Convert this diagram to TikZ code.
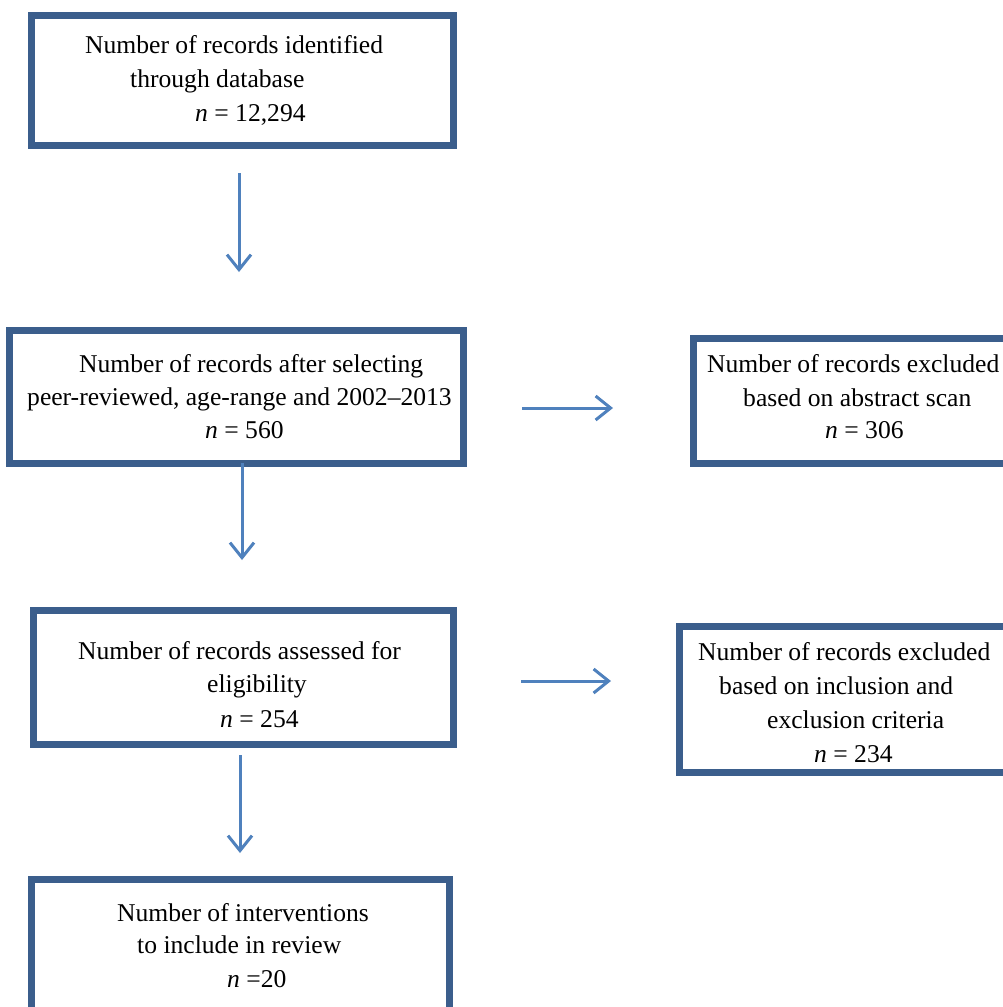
\documentclass[tikz,border=0pt]{standalone}
\usepackage{fontspec}
\setmainfont{Liberation Serif}
\usetikzlibrary{arrows.meta}
\definecolor{boxblue}{RGB}{59,94,140}
\definecolor{arrblue}{RGB}{79,129,189}
\begin{document}
\begin{tikzpicture}[x=1pt,y=-1pt,
 box/.style={draw=boxblue,line width=7pt,rectangle,inner sep=0pt,outer sep=3.5pt,anchor=north west},
 txt/.style={anchor=base west,inner sep=0pt,font=\fontsize{25.6}{34}\selectfont},
 arr/.style={draw=arrblue,line width=3pt,-{Straight Barb[length=15pt,width=24pt,line width=3pt]}}]
\useasboundingbox (0,0) rectangle (1003,1007);
\clip (0,0) rectangle (1003,1007);
\fill[white] (0,0) rectangle (1003,1007);
% boxes
\node[box,minimum width=422pt,minimum height=130pt] (b1) at (28,12) {};
\node[box,minimum width=454pt,minimum height=133pt] (b2) at (6,327) {};
\node[box,minimum width=400pt,minimum height=125pt] (r1) at (690,335) {};
\node[box,minimum width=400pt,minimum height=146pt] (r2) at (676,623) {};
\node[box,minimum width=420pt,minimum height=134pt] (b3) at (30,607) {};
\node[box,minimum width=418pt,minimum height=200pt] (b4) at (28,876) {};
% texts
\node[txt] (t11) at (85,53) {Number of records identified};
\node[txt] (t12) at (130,87) {through database};
\node[txt] (t13) at (195,121) {\textit{n} = 12,294};
\node[txt] (t21) at (79,372) {Number of records after selecting};
\node[txt] (t22) at (27,405) {peer-reviewed, age-range and 2002--2013};
\node[txt] (t23) at (205,438) {\textit{n} = 560};
\node[txt] (r11) at (707,372) {Number of records excluded};
\node[txt] (r12) at (743,406) {based on abstract scan};
\node[txt] (r13) at (825,438) {\textit{n} = 306};
\node[txt] (r21) at (698,660) {Number of records excluded};
\node[txt] (r22) at (719,694) {based on inclusion and};
\node[txt] (r23) at (767,728) {exclusion criteria};
\node[txt] (r24) at (814,762) {\textit{n} = 234};
\node[txt] (t31) at (78,659) {Number of records assessed for};
\node[txt] (t32) at (207,692) {eligibility};
\node[txt] (t33) at (220,727) {\textit{n} = 254};
\node[txt] (t41) at (117,921) {Number of interventions};
\node[txt] (t42) at (137,953) {to include in review};
\node[txt] (t43) at (227,987) {\textit{n} =20};
% arrow end points
\coordinate (a1s) at (239,173); \coordinate (a1e) at (239,272);
\coordinate (a2s) at (242,463); \coordinate (a2e) at (242,560);
\coordinate (a3s) at (240,755); \coordinate (a3e) at (240,853);
\coordinate (h1s) at (522,408); \coordinate (h1e) at (613,408);
\coordinate (h2s) at (521,681); \coordinate (h2e) at (611,681);
\draw[arr] (a1s) -- (a1e);
\draw[arr] (a2s) -- (a2e);
\draw[arr] (a3s) -- (a3e);
\draw[arr] (h1s) -- (h1e);
\draw[arr] (h2s) -- (h2e);
\end{tikzpicture}
\end{document}
